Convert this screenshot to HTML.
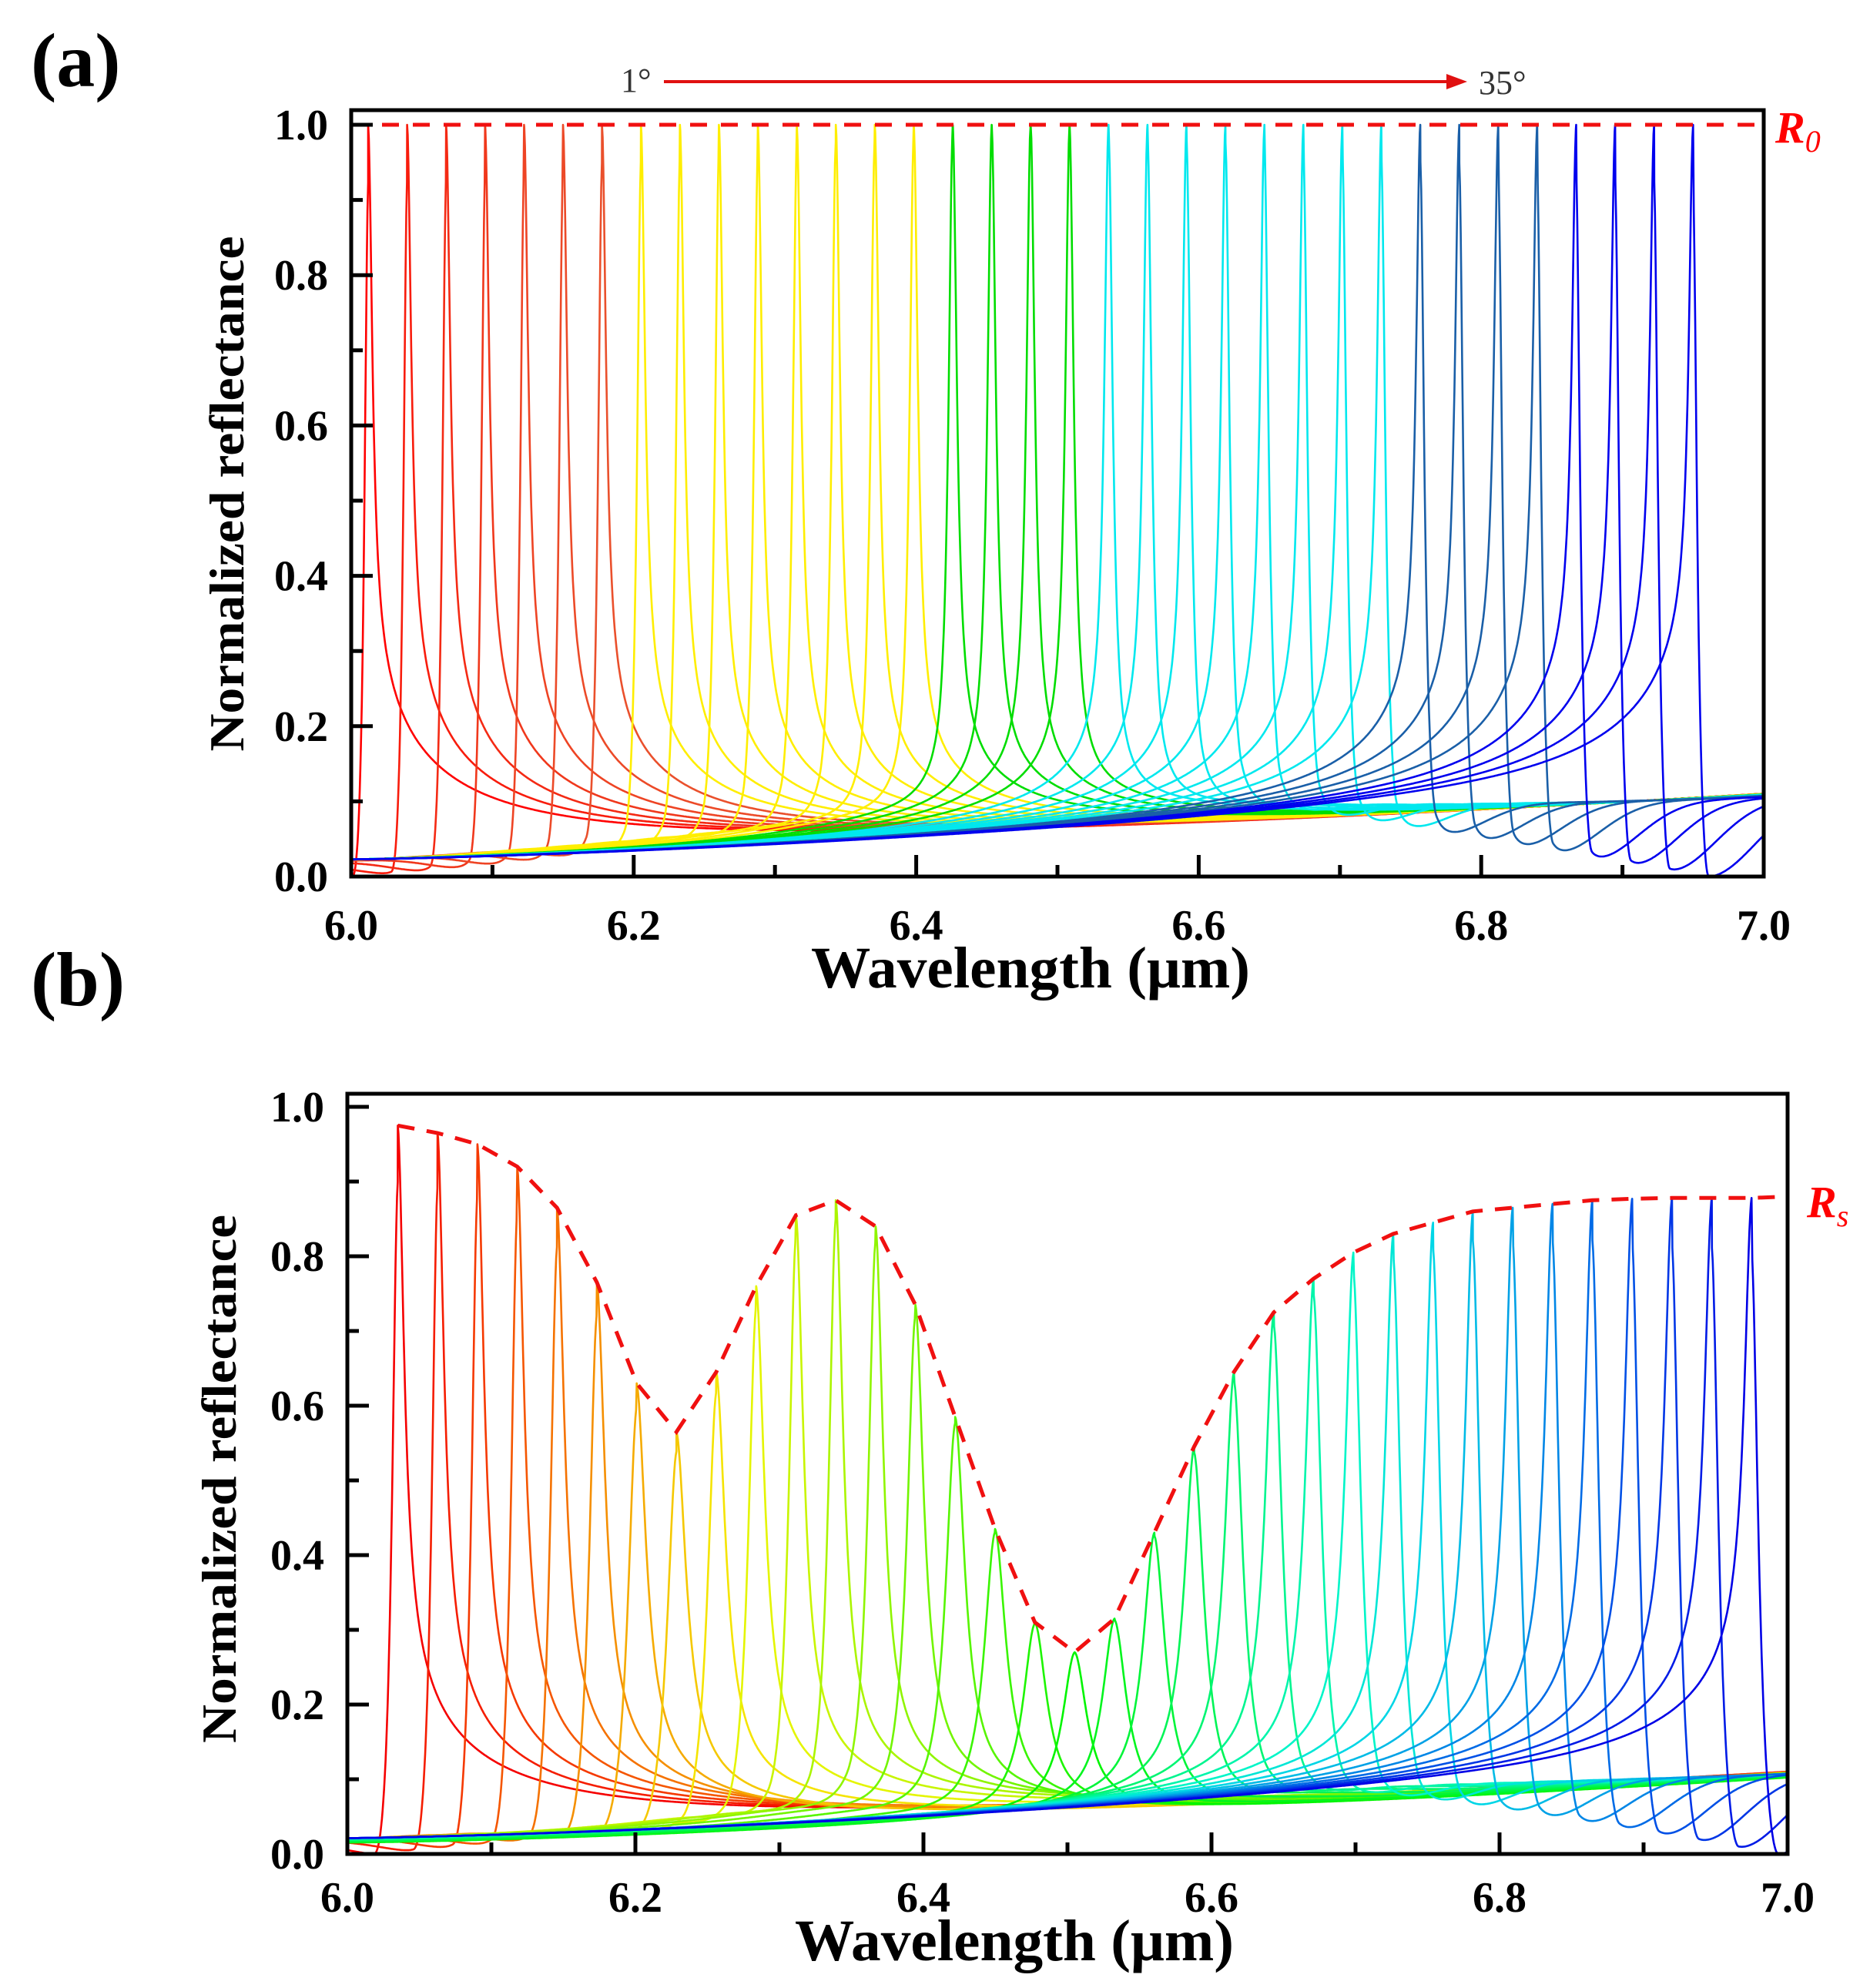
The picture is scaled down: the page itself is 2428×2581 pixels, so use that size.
<!DOCTYPE html>
<html><head><meta charset="utf-8"><style>
html,body{margin:0;padding:0;background:#fff}
svg{display:block}
text{font-family:"Liberation Serif",serif}
</style></head><body>
<svg id="s" width="2428" height="2581" viewBox="0 0 2428 2581" xmlns="http://www.w3.org/2000/svg">
<rect width="2428" height="2581" fill="#fff"/>
<g id="curvesA"></g>
<g id="curvesB"></g>
<g id="axes" fill="none" stroke="#000"></g>
<g id="labels" font-weight="bold" font-size="56" fill="#000"></g>
<text x="40" y="112" font-size="100" font-weight="bold">(a)</text>
<text x="40" y="1305" font-size="100" font-weight="bold">(b)</text>
<text x="806" y="119" font-size="44" fill="#333">1°</text>
<line x1="862" y1="106" x2="1885" y2="106" stroke="#e01010" stroke-width="4"/>
<polygon points="1905,106 1878,96 1878,116" fill="#e01010"/>
<text x="1920" y="122" font-size="44" fill="#333">35°</text>
<text x="2305" y="185" font-size="58" font-weight="bold" font-style="italic" fill="#f00">R<tspan font-size="40" font-weight="normal" dy="12">0</tspan></text>
<text x="2346" y="1580" font-size="58" font-weight="bold" font-style="italic" fill="#f00">R<tspan font-size="40" font-weight="normal" dy="12">s</tspan></text>
<text x="1338" y="1282" font-size="76" font-weight="bold" text-anchor="middle" textLength="570" lengthAdjust="spacingAndGlyphs">Wavelength (μm)</text>
<text x="1317" y="2545" font-size="76" font-weight="bold" text-anchor="middle" textLength="570" lengthAdjust="spacingAndGlyphs">Wavelength (μm)</text>
<text transform="translate(316,641) rotate(-90)" font-size="64" font-weight="bold" text-anchor="middle" textLength="669" lengthAdjust="spacingAndGlyphs">Normalized reflectance</text>
<text transform="translate(306,1920) rotate(-90)" font-size="64" font-weight="bold" text-anchor="middle" textLength="686" lengthAdjust="spacingAndGlyphs">Normalized reflectance</text>
</svg>
<script>
(function(){
var NS="http://www.w3.org/2000/svg";
function el(p,tag,attrs,txt){var e=document.createElementNS(NS,tag);for(var k in attrs)e.setAttribute(k,attrs[k]);if(txt!==undefined)e.textContent=txt;p.appendChild(e);return e;}
var A={x0:456,x1:2290,y0:1138,y1:162,top:143};
var B={x0:451,x1:2321,y0:2407,y1:1437,top:1420};
function X(P,l){return P.x0+(l-6)*(P.x1-P.x0);}
function Y(P,r){return P.y0-(r)*(P.y0-P.y1);}
function base(l){var x=l-6;return 0.013+0.087*Math.pow(x,1.4);}
function dipf(d,d0){ // d measured away from peak on dip side (>0)
  if(d<=0)return 1;
  var w=(d<d0)?d0/1.6:0.045;
  return 1-Math.exp(-((d-d0)*(d-d0))/(w*w));
}
function R(l,lp,h,t,c){
  var d=l-lp;
  var wl=t, wr=1-t, tw=0.35, tt=0.03;
  var f;
  if(d<0){f=(1-tw*wl)/(1+(d/c)*(d/c))+tw*wl/(1+Math.abs(d)/tt);}
  else{f=(1-tw*wr)/(1+(d/c)*(d/c))+tw*wr/(1+Math.abs(d)/tt);}
  var v=base(l)+(h-base(lp))*f;
  var s=(t-0.5)*2, d0=c*3.2;
  var g;
  if(s>0){g=1-s*(1-dipf(d,d0));}
  else{g=1+s*(1-dipf(-d,d0));}
  return v*g;
}
function draw(P,g,peaks,heights,colors,cfun){
  for(var i=0;i<peaks.length;i++){
    var t=i/(peaks.length-1),pts=[];
    var c=cfun(heights[i]);
    var ls=[];
    for(var l=6;l<=7.0001;l+=0.0005)ls.push(l);
    ls.push(peaks[i]);ls.sort(function(a,b){return a-b;});
    for(var j=0;j<ls.length;j++){
      var l=ls[j];
      var r=R(l,peaks[i],heights[i],t,c);
      if(r<0)r=0;
      pts.push(X(P,l).toFixed(1)+","+Y(P,r).toFixed(1));
    }
    el(g,"polyline",{points:pts.join(" "),fill:"none",stroke:colors[i],"stroke-width":2.6,"stroke-linejoin":"round"});
  }
}
// Panel A
var pa=[],ha=[],ca=[];
var groups=[[7,["#ff0000","#f81c0c","#f42a14","#f0381c","#ee4424","#ec4a28","#ea502c"]],[8,"#ffee00"],[4,"#00dd00"],[8,"#00e8ee"],[4,"#1a5fa8"],[4,"#0000ee"]];
groups.forEach(function(gp){for(var k=0;k<gp[0];k++){ca.push(Array.isArray(gp[1])?gp[1][k]:gp[1]);}});
for(var i=0;i<35;i++){pa.push(6.012+i*(0.938/34));ha.push(1.0);}
draw(A,document.getElementById("curvesA"),pa,ha,ca,function(h){return 0.0035;});
// Panel B
var env=[0.975,0.965,0.95,0.92,0.865,0.765,0.63,0.565,0.645,0.76,0.855,0.875,0.84,0.735,0.585,0.435,0.31,0.27,0.315,0.43,0.545,0.645,0.725,0.77,0.805,0.83,0.845,0.86,0.865,0.87,0.875,0.877,0.878,0.878,0.878];
var pb=[],cb=[];
for(var i=0;i<35;i++){pb.push(6.035+i*(0.94/34));cb.push("hsl("+(240*i/34).toFixed(0)+",100%,"+(i>24?45:48)+"%)");}
draw(B,document.getElementById("curvesB"),pb,env,cb,function(h){return 0.005+0.007*(1-h);});
var cg=document.getElementById("curvesB");
var ep=[];for(var i=0;i<35;i++)ep.push(X(B,pb[i]).toFixed(1)+","+Y(B,env[i]).toFixed(1));
ep.push(X(B,7).toFixed(1)+","+Y(B,0.88).toFixed(1));
el(cg,"polyline",{points:ep.join(" "),fill:"none",stroke:"#f01010","stroke-width":5,"stroke-dasharray":"22 16"});
el(document.getElementById("curvesA"),"line",{x1:A.x0,y1:Y(A,1),x2:A.x1,y2:Y(A,1),stroke:"#f01010","stroke-width":5,"stroke-dasharray":"22 18"});
var ax=document.getElementById("axes"),lb=document.getElementById("labels");
[A,B].forEach(function(P,pi){
  el(ax,"rect",{x:P.x0,y:P.top,width:P.x1-P.x0,height:P.y0-P.top,"stroke-width":5});
  for(var k=0;k<=10;k++){
    var x=P.x0+k*(P.x1-P.x0)/10,L=(k%2==0)?28:15;
    el(ax,"line",{x1:x,y1:P.y0,x2:x,y2:P.y0-L,"stroke-width":5});
    var y=P.y0-k*(P.y0-P.y1)/10;
    el(ax,"line",{x1:P.x0,y1:y,x2:P.x0+L,y2:y,"stroke-width":5});
    if(k%2==0){
      el(lb,"text",{x:x,y:(pi==0?1220:2482),"text-anchor":"middle"},(6+k/10).toFixed(1));
      el(lb,"text",{x:P.x0-30,y:y+19,"text-anchor":"end"},(k/10).toFixed(1));
    }
  }
});
})();
</script>
</body></html>
